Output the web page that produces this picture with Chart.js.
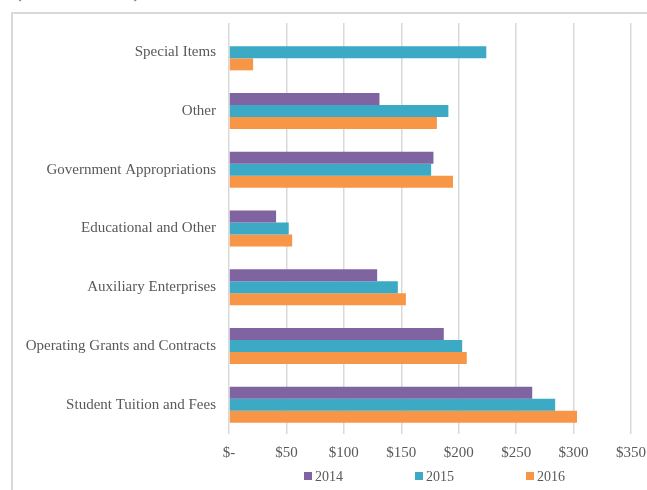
<!DOCTYPE html>
<html>
<head>
<meta charset="utf-8">
<script src="https://cdn.jsdelivr.net/npm/chart.js@4"></script>
<style>
  html, body { margin: 0; padding: 0; background: #fff; overflow: hidden; }
  #wrap { position: relative; width: 647px; height: 490px; }
  #caption {
    position: absolute; left: 13px; top: -27px;
    font-family: 'Liberation Serif', serif; font-size: 26px; color: #595959;
    white-space: nowrap;
  }
  #panel {
    position: absolute; left: 11px; top: 12px; width: 660px; height: 500px;
    border-left: 2px solid #d9d9d9; border-top: 2px solid #d9d9d9;
  }
  canvas { position: absolute; left: 0; top: 0; }
</style>
</head>
<body>
<div id="wrap">
  <div id="caption">(in millions)</div>
  <div id="panel"></div>
  <canvas id="revenue" width="647" height="490"></canvas>
</div>
<script>
// Revenue sources, top to bottom
const categories = [
  'Special Items',
  'Other',
  'Government Appropriations',
  'Educational and Other',
  'Auxiliary Enterprises',
  'Operating Grants and Contracts',
  'Student Tuition and Fees'
];

const years = ['2014', '2015', '2016'];

const values2014 = [null, 131, 178, 41, 129, 187, 264];
const values2015 = [224, 191, 176, 52, 147, 203, 284];
const values2016 = [21, 181, 195, 55, 154, 207, 303];

const xTicks = [0, 50, 100, 150, 200, 250, 300, 350];

const colors = ['#8064a2', '#3ca9c5', '#f79646'];
const textColor = '#595959';
const serif = "'Liberation Serif', serif";

// Legend drawn as a spaced row under the axis
const spacedLegend = {
  id: 'spacedLegend',
  afterDraw(chart, args, opts) {
    const ctx = chart.ctx;
    ctx.save();
    ctx.font = '14px ' + serif;
    ctx.textBaseline = 'middle';
    chart.data.datasets.forEach((ds, i) => {
      const x = opts.startX + i * opts.gap;
      ctx.fillStyle = ds.backgroundColor;
      ctx.fillRect(x, opts.y - 4, 8, 8);
      ctx.fillStyle = textColor;
      ctx.fillText(ds.label, x + 11, opts.y + 1);
    });
    ctx.restore();
  }
};

new Chart(document.getElementById('revenue').getContext('2d'), {
  type: 'bar',
  data: {
    labels: categories,
    datasets: [
      { label: years[0], data: values2014, backgroundColor: colors[0] },
      { label: years[1], data: values2015, backgroundColor: colors[1] },
      { label: years[2], data: values2016, backgroundColor: colors[2] }
    ]
  },
  options: {
    indexAxis: 'y',
    responsive: false,
    animation: false,
    categoryPercentage: 0.613,
    barPercentage: 1,
    layout: { padding: { top: 23, right: 16, bottom: 26, left: 0 } },
    plugins: {
      legend: { display: false },
      tooltip: { enabled: false },
      spacedLegend: { startX: 304, gap: 111, y: 476 }
    },
    scales: {
      x: {
        min: xTicks[0],
        max: xTicks[xTicks.length - 1],
        afterBuildTicks: (scale) => { scale.ticks = xTicks.map(v => ({ value: v })); },
        // fixed axis box so the plot edges stay put
        afterFit: (scale) => {
          scale.height = 30;
          scale.paddingLeft = 0;
          scale.paddingRight = 0;
        },
        grid: { color: '#d9d9d9', lineWidth: 1.5, drawTicks: false },
        border: { display: false },
        ticks: {
          padding: 10,
          autoSkip: false,
          maxRotation: 0,
          color: textColor,
          font: { family: serif, size: 15 },
          callback: (v) => (v === 0 ? '$-' : '$' + v)
        }
      },
      y: {
        afterFit: (scale) => { scale.width = 229; },
        grid: { display: false, drawTicks: false },
        border: { display: false },
        ticks: {
          padding: 13,
          color: textColor,
          font: { family: serif, size: 15 }
        }
      }
    }
  },
  plugins: [spacedLegend]
});
</script>
</body>
</html>
